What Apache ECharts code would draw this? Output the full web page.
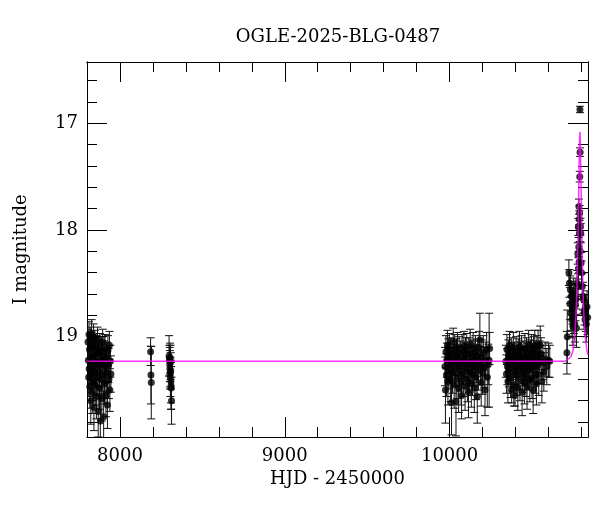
<!DOCTYPE html>
<html>
<head>
<meta charset="utf-8">
<script src="https://cdn.jsdelivr.net/npm/echarts@6/dist/echarts.min.js"></script>
<style>html,body{margin:0;padding:0;background:#fff}#c{width:600px;height:512px}</style>
</head>
<body>
<div id="c"></div>
<script>
// HJD - 2450000, I magnitude, error
const hjd = [
 7806,7808,7810,7812,7813,7815,7817,7819,7821,7823,7824,7826,7828,7830,7832,7834,7836,7838,7840,7842,
 7844,7846,7848,7850,7852,7855,7857,7859,7862,7864,7866,7868,7871,7873,7876,7878,7881,7883,7885,7888,
 7890,7893,7895,7898,7901,7903,7906,7909,7912,7915,7918,7921,7924,7927,7930,7933,7936,7939,7942,7945,
 8186,8188,8190,
 8298,8300,8302,8303,8304,8305,8306,8307,8308,8309,8310,8311,8313,
 9972,9975,9978,9981,9984,9987,9990,9993,9996,9999,10002,10005,10008,10012,10015,10018,10022,10025,10028,10031,
 10035,10039,10042,10045,10048,10052,10055,10058,10062,10066,10070,10073,10076,10080,10083,10087,10090,10094,10097,10101,
 10104,10108,10111,10115,10118,10122,10125,10129,10132,10136,10139,10143,10146,10150,10153,10157,10160,10164,10168,10171,
 10175,10179,10184,10188,10192,10196,10200,10205,10210,10215,10220,10225,10229,10235,10240,10243,
 10342,10345,10348,10351,10354,10357,10360,10364,10367,10370,10374,10377,10380,10384,10387,10390,10394,10397,10400,10404,
 10407,10410,10414,10417,10420,10424,10427,10430,10434,10437,10440,10444,10447,10450,10454,10457,10460,10464,10467,10470,
 10474,10477,10480,10484,10487,10490,10494,10497,10500,10504,10507,10510,10514,10517,10520,10524,10527,10530,10534,10537,
 10541,10545,10550,10555,10560,10566,10572,10580,10590,10600,10608,
 10712,10714,10724,10727,10730,10733,10736,10739,10742,10745,10748,10751,10754,10757,10760,10764,10767,10770,10774,10778,
 10780,10781,10782,10784,10785,10786,10787,10788,10789,10790,10791,10792,10793,10794,10796,10798,10801,10805,10810,10813,
 10816,10819,10822,10826,10830,10834,10838
];
const mag = [
 19.05,19.22,19.38,18.98,19.30,19.12,19.47,19.02,19.25,19.60,19.08,19.35,18.97,19.18,19.52,19.10,19.28,19.42,19.00,19.66,
 19.20,19.33,19.06,19.45,19.15,19.25,19.56,19.12,19.38,19.03,19.24,19.70,19.16,19.32,19.48,19.09,19.79,19.26,19.40,19.14,
 19.58,19.22,19.05,19.36,19.75,19.18,19.44,19.11,19.28,19.55,19.20,19.34,19.64,19.13,19.27,19.40,19.08,19.50,19.23,19.35,
 19.14,19.36,19.43,
 19.18,19.22,19.26,19.30,19.20,19.34,19.38,19.24,19.32,19.42,19.46,19.48,19.60,
 19.28,19.50,19.14,19.36,19.22,19.08,19.42,19.18,19.30,19.12,19.26,19.40,19.16,19.62,19.24,19.34,19.05,19.20,19.45,19.12,
 19.28,19.61,19.18,19.38,19.10,19.25,19.48,19.15,19.32,19.20,19.42,19.55,19.13,19.27,19.36,19.09,19.22,19.46,19.17,19.30,
 19.12,19.40,19.24,19.52,19.16,19.33,19.07,19.26,19.44,19.19,19.35,19.11,19.28,19.48,19.21,19.14,19.38,19.25,19.56,19.18,
 19.31,19.10,19.03,19.27,19.43,19.20,19.34,19.15,19.29,19.50,19.22,19.12,19.38,19.26,19.22,19.11,
 19.23,19.35,19.12,19.28,19.42,19.18,19.30,19.08,19.25,19.38,19.15,19.50,19.22,19.33,19.10,19.45,19.20,19.55,19.28,19.14,
 19.36,19.24,19.48,19.17,19.31,19.09,19.40,19.21,19.27,19.13,19.52,19.34,19.19,19.29,19.43,19.11,19.25,19.37,19.16,19.47,
 19.22,19.32,19.07,19.26,19.41,19.18,19.30,19.12,19.39,19.23,19.50,19.15,19.28,19.08,19.35,19.20,19.44,19.13,19.27,19.08,
 19.36,19.19,19.08,19.16,19.42,19.24,19.33,19.21,19.28,19.22,19.23,
 19.15,19.00,18.40,18.50,18.69,18.56,18.78,18.62,18.84,18.73,18.90,18.59,18.81,18.65,18.88,18.70,18.65,18.92,18.50,18.22,
 18.53,17.97,18.36,18.16,17.78,18.30,17.90,18.03,17.84,17.50,16.87,17.27,18.20,17.97,18.03,18.31,18.40,18.53,18.62,18.65,
 18.78,18.75,18.84,18.80,18.88,18.72,18.82
];
const err = [
 0.12,0.15,0.18,0.12,0.14,0.13,0.20,0.11,0.16,0.22,0.12,0.17,0.13,0.14,0.20,0.12,0.15,0.18,0.12,0.22,
 0.15,0.16,0.12,0.19,0.14,0.15,0.21,0.13,0.17,0.12,0.15,0.24,0.13,0.16,0.20,0.12,0.25,0.15,0.18,0.13,
 0.21,0.15,0.12,0.17,0.24,0.14,0.19,0.13,0.16,0.20,0.15,0.17,0.22,0.14,0.16,0.18,0.13,0.20,0.15,0.17,
 0.13,0.27,0.34,
 0.19,0.14,0.16,0.17,0.14,0.15,0.18,0.16,0.17,0.20,0.22,0.20,0.22,
 0.18,0.31,0.15,0.20,0.16,0.14,0.22,0.16,0.19,0.15,0.17,0.21,0.15,0.30,0.17,0.19,0.13,0.16,0.22,0.14,
 0.18,0.32,0.16,0.20,0.14,0.17,0.23,0.15,0.19,0.16,0.22,0.22,0.15,0.18,0.20,0.14,0.17,0.23,0.16,0.19,
 0.15,0.21,0.17,0.24,0.15,0.19,0.14,0.18,0.22,0.16,0.20,0.15,0.18,0.23,0.17,0.15,0.21,0.18,0.25,0.16,
 0.19,0.15,0.25,0.18,0.22,0.17,0.20,0.16,0.19,0.24,0.17,0.16,0.28,0.19,0.44,0.15,
 0.15,0.18,0.14,0.17,0.20,0.15,0.17,0.13,0.16,0.19,0.14,0.12,0.16,0.18,0.14,0.20,0.15,0.10,0.17,0.14,
 0.19,0.16,0.21,0.15,0.18,0.14,0.20,0.16,0.17,0.14,0.22,0.18,0.15,0.17,0.20,0.14,0.16,0.19,0.15,0.21,
 0.16,0.18,0.13,0.17,0.20,0.15,0.17,0.14,0.19,0.16,0.22,0.15,0.17,0.14,0.18,0.16,0.20,0.14,0.17,0.14,
 0.19,0.15,0.18,0.15,0.20,0.16,0.18,0.16,0.17,0.16,0.15,
 0.20,0.25,0.12,0.13,0.15,0.13,0.16,0.14,0.17,0.15,0.18,0.14,0.16,0.15,0.17,0.15,0.14,0.18,0.12,0.10,
 0.12,0.08,0.10,0.09,0.07,0.10,0.08,0.08,0.07,0.05,0.03,0.04,0.09,0.08,0.09,0.10,0.11,0.12,0.13,0.13,
 0.15,0.14,0.16,0.15,0.17,0.15,0.16
];
// model curve
const modelHjd = [7800,10700,10711,10736,10749,10759,10767,10773,10777,10781,10783,10785,10787,10789,10791,10793,10795,10797,10799,10801,10805,10809,10815,10823,10833,10840];
const modelMag = [19.23,19.23,19.22,19.19,19.13,19.00,18.80,18.55,18.25,17.90,17.70,17.50,17.30,17.15,17.08,17.15,17.30,17.50,17.70,17.90,18.25,18.55,18.80,19.00,19.13,19.17];
// axis ticks
const xMajorTicks = [8000, 9000, 10000];
const xMinorTicks = [7800,8000,8200,8400,8600,8800,9000,9200,9400,9600,9800,10000,10200,10400,10600,10800];
const yMajorTicks = [17, 18, 19];
const yMinorTicks = [16.6,16.8,17.0,17.2,17.4,17.6,17.8,18.0,18.2,18.4,18.6,18.8,19.0,19.2,19.4,19.6,19.8];

const FONT = 'DejaVu Serif';
const FS = 18;
const XMIN = 7800, XMAX = 10840, YMIN = 16.425, YMAX = 19.94;
const lineCol = '#000';

function xAx(pos, ticks, len, labels) {
  return {
    type: 'value', position: pos, min: XMIN, max: XMAX,
    axisLine: {show: true, onZero: false, lineStyle: {color: lineCol, width: 1}},
    axisTick: {show: true, inside: true, length: len, customValues: ticks, lineStyle: {color: lineCol, width: 1}},
    axisLabel: labels ? {show: true, customValues: xMajorTicks, formatter: v => String(v), fontFamily: FONT, fontSize: FS, color: '#000', margin: 10} : {show: false},
    splitLine: {show: false},
    name: labels ? 'HJD - 2450000' : '',
    nameLocation: 'middle', nameGap: 32,
    nameTextStyle: {fontFamily: FONT, fontSize: FS, color: '#000'}
  };
}
function yAx(pos, ticks, len, labels) {
  return {
    type: 'value', position: pos, min: YMIN, max: YMAX, inverse: true,
    axisLine: {show: true, onZero: false, lineStyle: {color: lineCol, width: 1}},
    axisTick: {show: true, inside: true, length: len, customValues: ticks, lineStyle: {color: lineCol, width: 1}},
    axisLabel: labels ? {show: true, customValues: yMajorTicks, formatter: v => String(v), fontFamily: FONT, fontSize: FS, color: '#000', margin: 9} : {show: false},
    splitLine: {show: false},
    name: labels ? 'I magnitude' : '',
    nameLocation: 'middle', nameGap: 57, nameRotate: 90,
    nameTextStyle: {fontFamily: FONT, fontSize: FS, color: '#000'}
  };
}

const chart = echarts.init(document.getElementById('c'), null, {renderer: 'canvas'});
const pts = hjd.map((t, i) => [t, mag[i], err[i]]);
chart.setOption({
  animation: false,
  backgroundColor: '#fff',
  title: {
    text: 'OGLE-2025-BLG-0487', left: 333, top: 23, textAlign: 'center',
    textStyle: {fontFamily: FONT, fontSize: FS, fontWeight: 'normal', color: '#000'}
  },
  grid: {left: 87, right: 12, top: 62, bottom: 75, containLabel: false},
  xAxis: [xAx('bottom', xMajorTicks, 20, true), xAx('bottom', xMinorTicks, 10, false),
          xAx('top', xMajorTicks, 20, false), xAx('top', xMinorTicks, 10, false)],
  yAxis: [yAx('left', yMajorTicks, 20, true), yAx('left', yMinorTicks, 10, false),
          yAx('right', yMajorTicks, 20, false), yAx('right', yMinorTicks, 10, false)],
  series: [
    {
      type: 'custom', xAxisIndex: 0, yAxisIndex: 0, clip: true, z: 2,
      data: pts,
      renderItem: function (params, api) {
        const x = api.value(0), y = api.value(1), e = api.value(2);
        const a = api.coord([x, y - e]), b = api.coord([x, y + e]);
        const hw = 4;
        const st = {stroke: '#111', lineWidth: 1};
        return {type: 'group', children: [
          {type: 'line', shape: {x1: a[0], y1: a[1], x2: b[0], y2: b[1]}, style: st},
          {type: 'line', shape: {x1: a[0] - hw, y1: a[1], x2: a[0] + hw, y2: a[1]}, style: st},
          {type: 'line', shape: {x1: b[0] - hw, y1: b[1], x2: b[0] + hw, y2: b[1]}, style: st}
        ]};
      }
    },
    {
      type: 'scatter', xAxisIndex: 0, yAxisIndex: 0, z: 3,
      data: pts.map(p => [p[0], p[1]]),
      symbol: 'circle', symbolSize: 7,
      itemStyle: {color: '#000'}
    },
    {
      type: 'line', xAxisIndex: 0, yAxisIndex: 0, z: 4, clip: true,
      data: modelHjd.map((t, i) => [t, modelMag[i]]),
      showSymbol: false, smooth: false,
      lineStyle: {color: '#ff00ff', width: 1.5, opacity: 0.8}
    }
  ]
});
</script>
</body>
</html>
